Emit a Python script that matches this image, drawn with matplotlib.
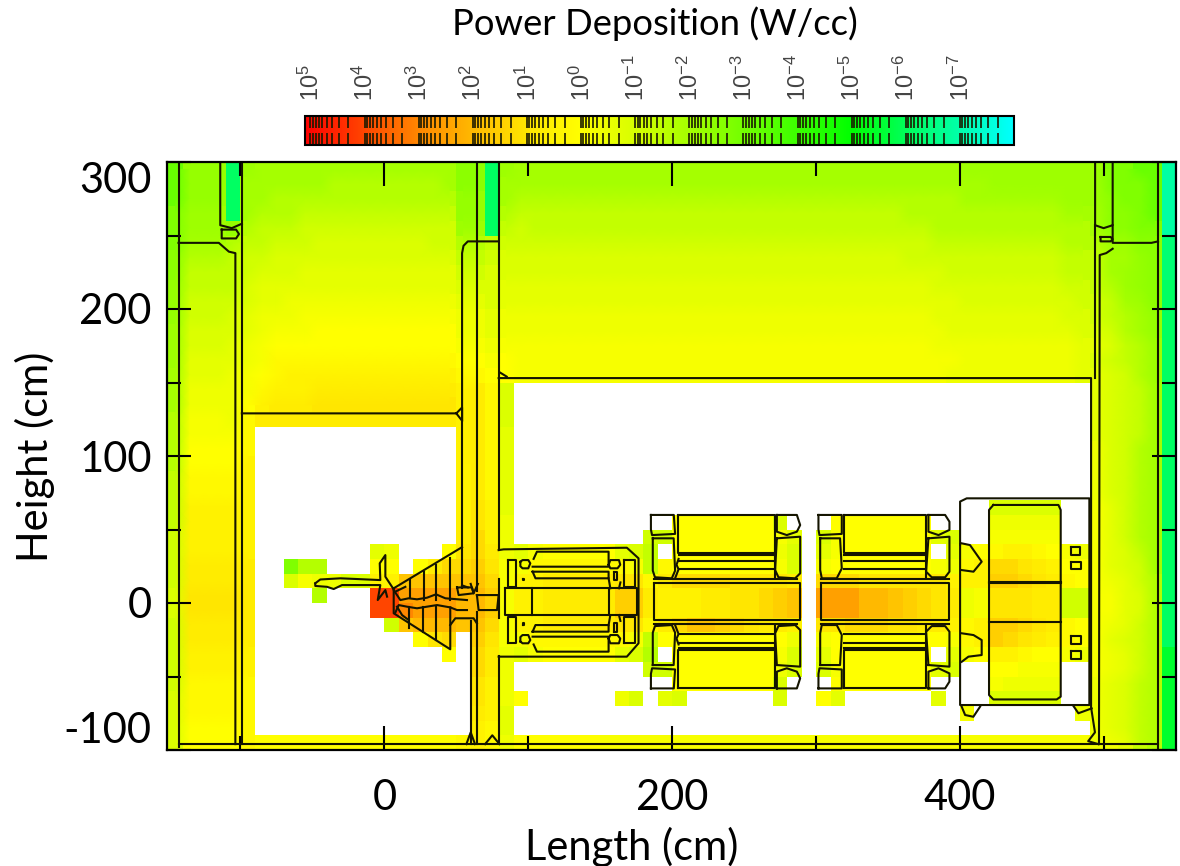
import numpy as np
import matplotlib
matplotlib.use('Agg')
import matplotlib.pyplot as plt
from matplotlib.colors import LogNorm, LinearSegmentedColormap
from matplotlib.ticker import NullFormatter

plt.rcParams['font.family'] = ['Lato', 'DejaVu Sans']
plt.rcParams['mathtext.fontset'] = 'custom'
plt.rcParams['mathtext.rm'] = 'Liberation Sans'

# cell edges of the 10 cm mesh (cm)
x_edges = list(range(-150, 551, 10))
y_edges = list(range(300, -101, -10))

# letter -> log10(W/cc), '.' is an empty cell
level_keys = "abcdefghijklmnopqrstuvwxyzABCDEF"
level_vals = [4.5, 4, 3.5, 3, 2.5, 2, 1.75, 1.5, 1.25, 1, .75, .5, .25, 0, -.2, -.4, -.65, -.9,
              -1.15, -1.4, -1.7, -2, -2.15, -2.3, -2.5, -2.75, -3.2, -4, -5.5, -6.1, -6.3, -6.9]

B = ".........."
# one row per 10 cm, from the top of the plot down
rows = [
    "AxxxDwvvvv vvvvvvvvvv yyDwvvvvvv vvvvvvvvvv vvvvvvvvvv vvvvvwwwww wwwwwzzAAF",
    "AxxxDvvvvv vuuuuuuuuv yyDvvvvvvv vvvvvvvvvv vvvvvvvvvv vvvvvvvwww wwwwwzzzAF",
    "AxxxDvvuuu uuuuuuuuuu xxDvuuuuuu uuuuuuuuuu uuuuuuuuuu uuuuuvvvvv vvwwwyzzAF",
    "zwwwDvuuut tttttttttt xxDutttttt tttttttttt tttttttttt tuuuuuuuuu uuvvvyyzAF",
    "zwwwxuttts ssssssssss wwDtsttttt tttttttttt tttttttttt tttuuuuuuu uuuuvyyzzF",
    "zvvvuttsss rrrrrrrrss uutsssssss ssssssssss ssssssssss sssttttttt ttuuuwwyyE",
    "yuuutssrrr rrrrrrrrrr ttsrrrrrrr rrrrrrrrrr rrrrrrrrrr rsssssssss sstttvvxyE",
    "yttttsrrrq qqqqqqqqqq ssrrrrrrrr rrrrrrrrrr rrrrrrrrrr rrrrssssss sstttvwxyE",
    "xttttrqqqq qqqqqqqqqq rrrqqqqqqq qqqqqqqqqq qqqqqqqqqq qqqrrrrrrr rrsstuwxyD",
    "xssssrqqpp pppppppppp qqrqqqqqqq qqqqqqqqqq qqqqqqqqqq qqqqqrrrrr rrrsstvwyD",
    "xsssrqpppo oooooooooo ppqppppppp pppppppppp pppppppppp pppqqqqqqq qqrrstuvxD",
    "wrrrrqpooo nnnnnnnnnn ppqppppppp pppppppppp pppppppppp ppppqqqqqq qqqrrsuvxD",
    "wrrrqponnn nnnnnnnnnn oopooooooo oooooooooo oooooooooo oooppppppp pppqqrtuwD",
    "wqqqqpommm mmmmmmmmmm nnonoooooo oooooooooo oooooooooo oooooppppp pppqrstuwD",
    "vqqqponmll llllllllll mmnnoooooo oooooooooo oooooooooo oooopppppp pppqqrsuwD",
    "vppppomlll kkkkkkkkkk lkmr...... " + B + " " + B + " " + B + " ....qrstvD",
    "vppppnlkkk jjjjjjjjjj lkmr...... " + B + " " + B + " " + B + " ....qrstvD",
    "uooopmkkkk kkkkkkkkkk lkmr...... " + B + " " + B + " " + B + " ....qrstvD",
    "uoooom.... " + B + " lkmq...... " + B + " " + B + " " + B + " ....qrstvD",
    "unnnnm.... " + B + " lkmq...... " + B + " " + B + " " + B + " ....prsuvD",
    "unnnnl.... " + B + " lkmq...... " + B + " " + B + " " + B + " ....prsuvD",
    "tmmmml.... " + B + " lkmq...... " + B + " " + B + " " + B + " ....prsuvD",
    "tmmmml.... " + B + " lkmq...... " + B + " " + B + " " + B + " ....prsuvD",
    "tlllll.... " + B + " ljlq...... " + B + " " + B + " .......rrr rr..oqsuvD",
    "tlllll.... " + B + " ljlp...... .....nnnnn nnr...nnnn nnn....ppp pp..oqsuvD",
    "slllll.... " + B + " kilp...... ...ssnnnnn nnoq.ronnn nnnqr..ooo oo..oqsuvD",
    "slllll.... ....qp...n jikpqonnnn nqrt.nnnnn nnpr.qonnn nnn.qonmll mnopoqrtvD",
    "skkkkk..zu u...nn.nki ihjoommmmm mmotmnnnnn nnor.onnnn nnnopmliij klnnoqrsvD",
    "skkkkk..ro pprrllgggg ggiollkkkk kjjmkiiiij jjjk.iiijj jjjjlllhhi jkmnopqsuD",
    "rjjjjk.... u...bbeeee ffhollkkkk khhklllkkj jihg.eeeff ghijkpojjj kkssooqruD",
    "rjjjjk.... ....bbdeee ffhollkkkk khhklllkkj jihg.eeeff ghijkpojjj kkssooqruD",
    "skkkkk.... .....sgfff ggiollkkkk kjjmkigghi jkkl.jjiii jjkklmlhhi jkmnopqsuD",
    "skkkkk.... .......nji .hjoommmmm mmotnnnnnn nnnp.onnnn nnnnomlhij klmnoqrsuD",
    "slllll.... .........n .ikpqonnnn nqru.nnnnn nnor.qnnnn nnn.qonllm nnopopqsuC",
    "slllll.... " + B + " .ikp...... ...ssnnnnn nnpr.ronnn nnnqr..nno oo..opqsuC",
    "smmmmm.... " + B + " .jlp...... .....nnnnn nnr...nnnn nnn....opp pp..pqrtuC",
    "rmmmmm.... " + B + " .jlpn..... .pr.qr.... ..r..nq... ...q...rrr rr..pqrtuC",
    "rmmmmm.... " + B + " .klq...... " + B + " " + B + " .....o.... ...ppqrtuC",
    "rnnnnm.... " + B + " .lmq...... " + B + " " + B + " " + B + " ....pqrtuC",
    "rnnnnmnnnn nnnnnnnnnn mlmpnnnnnn oooooooooo oooooooooo oooooooooo ooooppqtuC",
]

# open stretches of the mesh shown with a smooth gradient: first row, last row, first col, last col
smooth_blocks = [(0, 16, 5, 19), (0, 14, 23, 63), (0, 5, 0, 3), (5, 39, 0, 5), (0, 39, 64, 68), (0, 20, 20, 21)]

# colour scale stops: log10(W/cc) and rgb
scale_logs = [-8, -7, -6, -5, -4, -3, -2, -1, 0, 1, 2, 3, 4, 5.1]
scale_rgb = [(0, 255, 255), (0, 255, 170), (0, 255, 90), (0, 255, 0), (60, 255, 0), (115, 255, 0),
             (165, 255, 0), (215, 255, 0), (255, 255, 0), (255, 230, 0), (255, 185, 0),
             (255, 135, 0), (255, 70, 0), (255, 0, 0)]

bar_ticks = [1e5, 1e4, 1e3, 1e2, 1e1, 1e0, 1e-1, 1e-2, 1e-3, 1e-4, 1e-5, 1e-6, 1e-7]
bar_labels = ['5', '4', '3', '2', '1', '0', '-1', '-2', '-3', '-4', '-5', '-6', '-7']

# walls (cm)
walls = [
    [(-143, 300), (-143, -98)],
    [(-143, 245), (-115, 245), (-108, 239), (-103.5, 238), (-103.5, -96)],
    [(-114, 300), (-114, 257), (-106, 255), (-99, 258)],
    [(-99, 300), (-99, -96)],
    [(-113, 254), (-103, 254), (-101, 251), (-103, 248), (-113, 248), (-113, 254)],
    [(-99, 129), (50, 129), (54, 133), (54, 124), (50, 129)],
    [(54, 124), (54, 10)],
    [(54, 124), (54, 238), (55, 243), (58, 246), (64, 246), (79.4, 246)],
    [(64.3, 300), (64.3, 8)], [(64.3, -6), (64.3, -96)],
    [(79.4, 300), (79.4, 36)], [(79.4, -36), (79.4, -96)], [(79.4, 16), (79.4, -10)],
    [(60, -12), (60, -96)],
    [(79.4, 153), (491, 153), (491, -71), (493.7, -88), (489, -94), (496, -96)],
    [(80, 157), (85, 154)],
    [(-143, -96), (537.5, -96)],
    [(57, -96), (60, -88), (63, -96)],
    [(70, -96), (75, -90), (80, -96)],
    [(493.8, 300), (493.8, 257), (499.7, 255), (506, 257), (506, 300)],
    [(506, 257), (506, 245), (533, 245), (537.5, 246)],
    [(506, 241), (501.5, 238), (497, 236.7), (496.5, -96)],
    [(493.8, 257), (493.8, 153)],
    [(497.6, 249), (504.6, 249), (506, 247.5), (504.6, 246), (497.6, 246), (497.6, 249)],
    [(537.5, 300), (537.5, -100)],
]

# target probe and cone
probe_top = [(-48, 13.4), (-44.5, 16), (-30.5, 16.8), (-2.8, 15.6), (-3.2, 27), (0.7, 32.6), (0.7, 17.9), (6, 10)]
probe_low = [(-48, 13.4), (-48, 11.6), (-39.8, 11), (-35.2, 9.5), (-29.4, 12.2), (-2.8, 12.2), (-4.6, 2), (0.7, 8.8), (1.9, 4.3)]
cone = [
    [(6.5, 10), (54, 38)],
    [(6.5, 10), (6.5, -7), (45.8, -31.5), (45.8, -3)],
    [(45.8, 30.4), (45.8, 2)],
    [(17.6, 15.6), (17.6, 4.3)], [(27.3, 21.3), (27.3, 2)], [(35.9, 25.8), (35.9, 2)],
    [(16.9, -2.5), (16.9, -17.2)], [(26.9, -2.5), (26.9, -19.5)], [(35.9, -2.5), (35.9, -25)],
    [(6.5, 8.8), (11.1, 2), (16.9, 3.2), (22.7, 2.5), (29.6, 3.6), (35.9, 5.9), (42.4, 3.2), (57.4, 2)],
    [(7.6, -6.6), (10, -1.4), (15.7, -2.5), (22.7, -3.6), (29.6, -2.5), (36.6, -1.4), (45.8, -3), (50.5, -4.8), (57.4, -4.8)],
    [(8.8, -2.5), (12.3, -8.2), (16.9, -11.6)], [(7.6, 7.7), (14.6, 11)],
    [(45.8, -15), (49.3, -10.4), (62, -10.4), (64.3, -13.9)],
    [(50.5, 10.6), (60.9, 10.6), (62, 6.6), (51.6, 5.4), (50.5, 10.6)],
    [(64.3, 5.4), (79.4, 5.4), (78.3, -4.8), (65.5, -4.8), (64.3, 5.4)],
    [(54, 12), (58, 10.6)], [(60, 13), (62, 6.6), (65, 13)],
]

# first device, upper shapes are repeated below the axis
device_outer = [(79.4, 36), (82.9, 36.5), (168.5, 37.6), (176.6, 30.4), (176.6, -27.4), (168.5, -36.5), (79.4, -36.5)]
device_band = [(84, 10), (175.5, 10), (175.5, -8.2), (84, -8.2), (84, 10)]
device_inner = [[(102.6, 10), (102.6, -8.2)], [(155.8, 10), (155.8, -8.2)]]
device_upper = [
    [(103.7, 30), (106, 34.9), (155.8, 34.9), (155.8, 24.7), (103, 24.7)],
    [(103, 21.3), (155.8, 21.3), (155.8, 16.8), (105, 16.8), (103, 21.3)],
    [(85.7, 29.2), (91.7, 29.2), (91.7, 11.1), (85.7, 11.1), (85.7, 29.2)],
    [(94.5, 28), (96, 29.2), (100, 29.2), (101.4, 27), (100, 23.6), (96, 23.6), (94.5, 25), (94.5, 28)],
    [(155.8, 26), (157, 29.2), (163, 29.2), (163.9, 26), (162, 23.6), (157, 23.6), (155.8, 26)],
    [(166.2, 29.2), (174.3, 29.2), (174.3, 11.1), (166.2, 11.1), (166.2, 29.2)],
    [(159.3, 21.3), (161.6, 21.3), (161.6, 15.6), (159.3, 15.6), (159.3, 21.3)],
    [(96, 16.6), (96.8, 16.6), (96.8, 15.6), (96, 15.6), (96, 16.6)],
    [(155.8, 16.8), (157, 10)], [(163, 10), (164, 14)],
]

# the two magnets
magnet1_band = [(187, 13.4), (288.9, 13.4), (288.9, -11.6), (187, -11.6), (187, 13.4)]
magnet1_upper = [
    [(187, 16.1), (287, 16.1)],
    [(203.9, 59.9), (271.5, 59.9), (271.5, 33.8), (203.9, 33.8), (203.9, 59.9)],
    [(204.4, 32.6), (271.5, 32.6)], [(204.4, 28.8), (271.5, 28.8)], [(204.4, 22.9), (271.5, 22.9)],
    [(271.5, 33.8), (271.5, 16.8)], [(204.4, 30), (203, 26), (204.4, 22.9), (202, 16.8)],
    [(185.2, 59.9), (201.1, 59.9), (202, 47), (186, 46.2), (185.2, 50), (185.2, 59.9)],
    [(186.5, 44), (201, 44), (202, 22), (199.7, 16.8), (188, 17.5), (186.5, 22), (186.5, 44)],
    [(272.7, 59.9), (286.6, 59.9), (288.9, 53), (286.6, 48.5), (279.6, 46.2), (272.7, 48.5), (272.7, 59.9)],
    [(272.7, 44), (288.9, 45.1), (288.9, 20.2), (285.4, 16.8), (273.8, 17.5), (271.5, 22.4), (272.7, 44)],
]
magnet2_band = [(303.2, 13.4), (392.6, 13.4), (392.6, -11.6), (303.2, -11.6), (303.2, 13.4)]
magnet2_upper = [
    [(303.2, 16.1), (392, 16.1)],
    [(319, 59.9), (376.4, 59.9), (376.4, 33.8), (319, 33.8), (319, 59.9)],
    [(319.5, 32.6), (376.4, 32.6)], [(319.5, 28.8), (376.4, 28.8)], [(319.5, 22.9), (376.4, 22.9)],
    [(376.4, 33.8), (376.4, 16.8)],
    [(301.6, 59.9), (317.8, 59.9), (317.8, 47), (302.3, 46.2), (301.6, 50), (301.6, 59.9)],
    [(302.8, 44), (316.6, 44), (317.8, 23.5), (314.3, 16.8), (303.9, 16.8), (302.8, 22.4), (302.8, 44)],
    [(378, 59.9), (389.6, 59.9), (392.6, 55.3), (392.6, 49.7), (385, 46.2), (378, 48.5), (378, 59.9)],
    [(378, 44), (392.6, 45.1), (392.6, 21.3), (389.6, 17.5), (380.3, 17.5), (376.4, 21.3), (378, 44)],
]

# last block
shield_outer = [(400, 40), (400, 69), (404.6, 71.2), (489.8, 71.2), (489.8, -69.4), (400, -69.4), (400, 40)]
shield_inner = [(423.1, 66.7), (468.3, 66.7), (469.9, 63.3), (469.9, -63.7), (467.1, -65.6), (423.1, -65.6),
                (420.1, -62.6), (420.1, 63.3), (423.1, 66.7)]
shield_parts = [
    [(420.1, 14.5), (469.9, 14.5)], [(420.1, 13.5), (469.9, 13.5)],
    [(420.1, -12.7), (469.9, -12.7)],
    [(401.1, 40.6), (406.9, 39.4), (415, 28.1), (409.3, 21.3), (401.1, 22.4)],
    [(401.1, -20.6), (409.3, -21.8), (415, -25.2), (415, -35.4), (405.8, -36.5), (401.1, -40)],
    [(401.1, -70.5), (403.5, -76.2), (409.2, -77.4), (413.9, -70.5)],
    [(478.7, -70), (482.2, -75), (491.4, -71.7)],
    [(476.8, 38.3), (483.3, 38.3), (483.3, 32.6), (476.8, 32.6), (476.8, 38.3)],
    [(476.8, 28.1), (483.7, 28.1), (483.7, 22.9), (476.8, 22.9), (476.8, 28.1)],
    [(476.8, -22.2), (483.7, -22.2), (483.7, -28), (476.8, -28), (476.8, -22.2)],
    [(476.8, -32.7), (483.7, -32.7), (483.7, -38.1), (476.8, -38.1), (476.8, -32.7)],
]


def draw(ax, pts, mirror=False):
    xs = [p[0] for p in pts]
    ys = [p[1] for p in pts]
    ax.plot(xs, ys, color='#141400', lw=1.5, solid_joinstyle='round')
    if mirror:
        # lower half is the same shape flipped about y = 0.9
        ax.plot(xs, [1.8 - y for y in ys], color='#141400', lw=1.5, solid_joinstyle='round')


lookup = dict(zip(level_keys, level_vals))
grid = []
for r in rows:
    grid.append([lookup.get(ch, np.nan) for ch in r.replace(' ', '')])
log_power = np.array(grid)
power = np.ma.masked_invalid(10.0 ** log_power)

stops = [((v - scale_logs[0]) / (scale_logs[-1] - scale_logs[0]), tuple(c / 255 for c in rgb))
         for v, rgb in zip(scale_logs, scale_rgb)]
cmap = LinearSegmentedColormap.from_list('power', stops, N=1024)
norm = LogNorm(vmin=10.0 ** scale_logs[0], vmax=10.0 ** scale_logs[-1])

W, H = 1180, 866
fig = plt.figure(figsize=(W / 100, H / 100), dpi=100)
ax = fig.add_axes([167 / W, 1 - 750 / H, (1176 - 167) / W, (750 - 162) / H])

mesh = ax.pcolormesh(x_edges, y_edges, power, cmap=cmap, norm=norm, antialiased=False, linewidth=0)

x_mid = (np.array(x_edges[:-1]) + np.array(x_edges[1:])) / 2
y_mid = (np.array(y_edges[:-1]) + np.array(y_edges[1:])) / 2
for r0, r1, c0, c1 in smooth_blocks:
    ax.pcolormesh(x_mid[c0:c1 + 1], y_mid[r0:r1 + 1], power[r0:r1 + 1, c0:c1 + 1],
                  shading='gouraud', cmap=cmap, norm=norm)

for w in walls:
    draw(ax, w)
draw(ax, probe_top)
draw(ax, probe_low)
for c in cone:
    draw(ax, c)
draw(ax, device_outer)
draw(ax, device_band)
for d in device_inner:
    draw(ax, d)
for d in device_upper:
    draw(ax, d, mirror=True)
for band, upper in [(magnet1_band, magnet1_upper), (magnet2_band, magnet2_upper)]:
    draw(ax, band)
    for m in upper:
        draw(ax, m, mirror=True)
draw(ax, shield_outer)
draw(ax, shield_inner)
for s in shield_parts:
    draw(ax, s)

ax.set_xlim(-151, 550)
ax.set_ylim(-100, 300)
ax.set_xticks([0, 200, 400])
ax.set_xticks([-100, 100, 300, 500], minor=True)
ax.set_yticks([-100, 0, 100, 200, 300])
ax.set_yticklabels(['-100', '0', '100', '200', '300'])
ax.set_yticks([-50, 50, 150, 250], minor=True)
ax.tick_params(which='major', direction='in', top=True, right=True, length=17, width=1.5, labelsize=30)
ax.tick_params(which='minor', direction='in', top=True, right=True, length=10, width=1.5)
ax.tick_params(axis='x', which='major', pad=21)
ax.tick_params(axis='y', which='major', pad=11)
labs = ax.get_yticklabels()
labs[0].set_verticalalignment('bottom')
labs[-1].set_verticalalignment('top')
for sp in ax.spines.values():
    sp.set_linewidth(1.6)

fig.text(655 / W, 1 - 24 / H, 'Power Deposition (W/cc)', ha='center', va='center', fontsize=26.2)
fig.text(632 / W, 1 - 847 / H, 'Length (cm)', ha='center', va='center', fontsize=30)
fig.text(35 / W, 1 - 457 / H, 'Height (cm)', ha='center', va='center', rotation=90, fontsize=30)

cax = fig.add_axes([305 / W, 1 - 145 / H, (1014 - 305) / W, (145 - 116) / H])
cb = fig.colorbar(mesh, cax=cax, orientation='horizontal')
cax.invert_xaxis()
cb.outline.set_linewidth(1.5)
minor = []
for t in bar_ticks + [1e-8]:
    minor.extend([t * m for m in [2, 3, 4, 5, 6, 7, 8, 9]])
minor = [m for m in minor if m < 10.0 ** 5.1]
cax.set_xticks(bar_ticks)
cax.set_xticklabels([r'$\mathrm{10^{%s}}$' % s for s in bar_labels], rotation=90, fontsize=17, color='#444444')
cax.set_xticks(minor, minor=True)
cax.xaxis.set_minor_formatter(NullFormatter())
cax.tick_params(which='both', direction='in', top=True, bottom=True, labeltop=True, labelbottom=False,
                length=8.5, width=1.2, color='#1a1a00', pad=11)

fig.savefig('out.png', dpi=100)
